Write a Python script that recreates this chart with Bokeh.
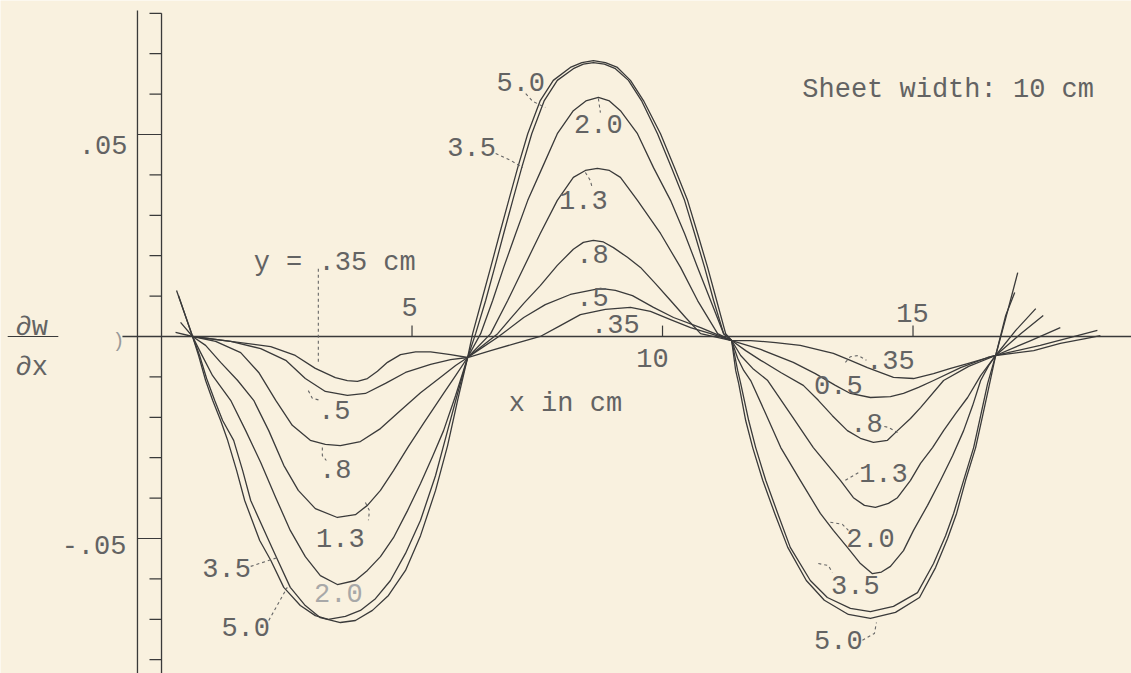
from bokeh.plotting import figure
from bokeh.models import Range1d
from bokeh.core.properties import value
from bokeh.embed import file_html
from bokeh.resources import INLINE

# ---------------- data (x in cm, dw/dx) ----------------
x_5_0 = [0.30, 0.62, 0.76, 0.90, 1.06, 1.22, 1.44, 1.62, 1.78, 2.14, 2.32, 2.57, 2.87, 3.17, 3.57, 3.87, 4.21, 4.53, 4.87, 5.17, 5.47, 5.71, 5.91, 6.11,
         6.21, 6.39, 6.57, 6.75, 6.93, 7.11, 7.31, 7.56, 7.82, 8.16, 8.39, 8.62, 8.86, 9.10, 9.36, 9.62, 9.96, 10.24, 10.50, 10.70, 10.90, 11.08, 11.26, 11.38,
         11.42, 11.46, 11.52, 11.66, 11.80, 12.00, 12.24, 12.50, 12.87, 13.23, 13.71, 14.15, 14.65, 15.13, 15.45, 15.69, 15.87, 16.05, 16.25, 16.39, 16.53, 16.65, 16.85, 17.09]
v_5_0 = [0.0114, 0.0, -0.0047, -0.0104, -0.0158, -0.0208, -0.0257, -0.0332, -0.0406, -0.0505, -0.0554, -0.0621, -0.0666, -0.0696, -0.0708, -0.0703, -0.0678, -0.0641, -0.0579, -0.0493, -0.0381, -0.0270, -0.0158, -0.0052,
         0.0007, 0.0089, 0.0171, 0.0255, 0.0337, 0.0418, 0.0502, 0.0584, 0.0634, 0.0666, 0.0678, 0.0683, 0.0678, 0.0666, 0.0634, 0.0584, 0.0502, 0.0418, 0.0337, 0.0255, 0.0171, 0.0089, 0.0007, -0.0010,
         -0.0047, -0.0084, -0.0116, -0.0208, -0.0275, -0.0356, -0.0438, -0.0522, -0.0604, -0.0653, -0.0688, -0.0698, -0.0683, -0.0646, -0.0572, -0.0500, -0.0438, -0.0356, -0.0275, -0.0196, -0.0116, -0.0047, 0.0045, 0.0158]

x_3_5 = [0.34, 0.62, 0.74, 0.88, 1.02, 1.18, 1.32, 1.50, 1.66, 1.96, 2.18, 2.44, 2.77, 3.07, 3.33, 3.67, 3.97, 4.27, 4.57, 4.87, 5.17, 5.47, 5.71, 5.91, 6.11,
         6.27, 6.47, 6.65, 6.83, 7.01, 7.19, 7.39, 7.64, 7.90, 8.22, 8.42, 8.62, 8.84, 9.06, 9.32, 9.58, 9.90, 10.18, 10.44, 10.64, 10.84, 11.02, 11.22, 11.38,
         11.44, 11.50, 11.56, 11.72, 11.86, 12.06, 12.30, 12.55, 12.95, 13.29, 13.75, 14.15, 14.61, 15.09, 15.41, 15.65, 15.81, 16.01, 16.21, 16.35, 16.49, 16.65, 16.85, 17.03]
v_3_5 = [0.0101, 0.0, -0.0047, -0.0109, -0.0158, -0.0208, -0.0257, -0.0332, -0.0406, -0.0505, -0.0554, -0.0621, -0.0666, -0.0691, -0.0700, -0.0693, -0.0678, -0.0649, -0.0604, -0.0537, -0.0455, -0.0344, -0.0233, -0.0141, -0.0052,
         0.0007, 0.0089, 0.0171, 0.0255, 0.0337, 0.0418, 0.0502, 0.0584, 0.0634, 0.0663, 0.0674, 0.0678, 0.0674, 0.0663, 0.0634, 0.0584, 0.0502, 0.0418, 0.0337, 0.0255, 0.0171, 0.0089, 0.0007, -0.0010,
         -0.0047, -0.0084, -0.0116, -0.0208, -0.0275, -0.0356, -0.0438, -0.0522, -0.0604, -0.0646, -0.0673, -0.0681, -0.0668, -0.0634, -0.0562, -0.0493, -0.0438, -0.0356, -0.0275, -0.0196, -0.0116, -0.0047, 0.0052, 0.0109]

x_2_0 = [0.38, 0.62, 0.78, 1.02, 1.38, 1.68, 1.98, 2.28, 2.57, 2.87, 3.17, 3.51, 3.87, 4.11, 4.37, 4.63, 4.91, 5.17, 5.41, 5.63, 5.87, 6.11,
         6.37, 6.61, 6.83, 7.07, 7.31, 7.60, 7.90, 8.22, 8.47, 8.72, 8.94, 9.16, 9.50, 9.82, 10.16, 10.44, 10.70, 10.96, 11.22, 11.38,
         11.50, 11.62, 11.76, 12.06, 12.36, 12.75, 13.15, 13.41, 13.69, 13.95, 14.19, 14.37, 14.55, 14.81, 15.01, 15.29, 15.55, 15.79, 16.01, 16.19, 16.35, 16.51, 16.65, 17.05, 17.45]
v_2_0 = [0.0035, 0.0, -0.0040, -0.0097, -0.0158, -0.0233, -0.0312, -0.0399, -0.0480, -0.0545, -0.0592, -0.0614, -0.0604, -0.0579, -0.0545, -0.0498, -0.0431, -0.0364, -0.0297, -0.0233, -0.0146, -0.0052,
         0.0007, 0.0089, 0.0171, 0.0255, 0.0337, 0.0418, 0.0502, 0.0559, 0.0583, 0.0592, 0.0583, 0.0559, 0.0502, 0.0418, 0.0337, 0.0255, 0.0171, 0.0089, 0.0007, -0.0010,
         -0.0054, -0.0084, -0.0109, -0.0191, -0.0275, -0.0356, -0.0438, -0.0480, -0.0522, -0.0562, -0.0587, -0.0583, -0.0569, -0.0530, -0.0480, -0.0418, -0.0356, -0.0295, -0.0233, -0.0171, -0.0109, -0.0072, -0.0047, 0.0015, 0.0069]

x_1_3 = [0.28, 0.62, 0.88, 1.18, 1.52, 1.84, 2.14, 2.44, 2.73, 3.07, 3.51, 3.87, 4.11, 4.37, 4.63, 4.93, 5.23, 5.63, 5.87, 6.11,
         6.57, 6.91, 7.23, 7.56, 7.90, 8.22, 8.46, 8.70, 8.94, 9.16, 9.50, 9.96, 10.36, 10.70, 11.10, 11.38,
         11.56, 11.80, 12.10, 12.55, 13.01, 13.55, 13.81, 14.03, 14.25, 14.51, 14.69, 14.95, 15.15, 15.39, 15.61, 15.85, 16.09, 16.35, 16.65, 17.15, 17.60]
v_1_3 = [0.0010, 0.0, -0.0022, -0.0064, -0.0109, -0.0158, -0.0233, -0.0319, -0.0381, -0.0426, -0.0448, -0.0441, -0.0418, -0.0381, -0.0332, -0.0272, -0.0215, -0.0141, -0.0097, -0.0052,
         0.0007, 0.0089, 0.0171, 0.0255, 0.0337, 0.0394, 0.0411, 0.0416, 0.0411, 0.0394, 0.0337, 0.0255, 0.0171, 0.0089, 0.0007, -0.0010,
         -0.0047, -0.0079, -0.0109, -0.0191, -0.0275, -0.0356, -0.0399, -0.0418, -0.0423, -0.0413, -0.0399, -0.0356, -0.0314, -0.0275, -0.0233, -0.0191, -0.0151, -0.0097, -0.0047, 0.0007, 0.0052]

x_0_8 = [0.62, 1.08, 1.58, 1.94, 2.28, 2.61, 2.97, 3.27, 3.57, 3.97, 4.37, 4.77, 5.17, 5.57, 5.87, 6.11,
         6.71, 6.97, 7.23, 7.56, 7.90, 8.22, 8.42, 8.62, 8.82, 9.02, 9.30, 9.56, 9.86, 10.16, 10.46, 10.76, 11.38,
         11.66, 11.96, 12.36, 12.81, 13.11, 13.39, 13.69, 13.95, 14.21, 14.49, 14.69, 14.95, 15.15, 15.61, 16.11, 16.65, 17.35, 17.94]
v_0_8 = [0.0, -0.0012, -0.0040, -0.0089, -0.0158, -0.0220, -0.0257, -0.0267, -0.0270, -0.0260, -0.0228, -0.0183, -0.0139, -0.0101, -0.0072, -0.0052,
         0.0007, 0.0045, 0.0082, 0.0126, 0.0176, 0.0216, 0.0233, 0.0238, 0.0234, 0.0220, 0.0196, 0.0171, 0.0131, 0.0089, 0.0047, 0.0007, -0.0010,
         -0.0035, -0.0059, -0.0089, -0.0121, -0.0158, -0.0196, -0.0233, -0.0252, -0.0262, -0.0257, -0.0233, -0.0203, -0.0176, -0.0109, -0.0074, -0.0047, -0.0010, 0.0022]

x_0_5 = [0.62, 1.38, 1.98, 2.48, 2.87, 3.27, 3.71, 4.07, 4.47, 4.87, 5.37, 5.77, 6.11,
         6.37, 6.71, 7.23, 7.66, 8.16, 8.76, 9.06, 9.40, 9.82, 10.22, 10.76, 11.38,
         11.96, 12.61, 13.05, 13.45, 13.75, 14.15, 14.55, 14.81, 15.11, 15.41, 15.95, 16.49, 16.65, 17.54, 18.68]
v_0_5 = [0.0, -0.0012, -0.0030, -0.0059, -0.0104, -0.0136, -0.0146, -0.0141, -0.0116, -0.0089, -0.0069, -0.0057, -0.0052,
         -0.0030, -0.0002, 0.0047, 0.0079, 0.0104, 0.0119, 0.0114, 0.0101, 0.0072, 0.0047, 0.0022, -0.0010,
         -0.0032, -0.0064, -0.0092, -0.0121, -0.0141, -0.0151, -0.0149, -0.0141, -0.0126, -0.0109, -0.0077, -0.0052, -0.0047, -0.0022, 0.0015]

x_0_35 = [0.62, 1.38, 2.18, 2.67, 3.07, 3.47, 3.71, 3.91, 4.11, 4.31, 4.51, 4.77, 5.07, 5.37, 5.77, 6.11,
          6.57, 7.07, 7.56, 7.96, 8.36, 8.86, 9.36, 9.76, 10.16, 10.56, 10.96, 11.38,
          11.76, 12.26, 12.75, 13.41, 13.75, 14.09, 14.61, 15.01, 15.41, 15.75, 16.09, 16.65, 17.41, 17.94, 18.44, 18.74]
v_0_35 = [0.0, -0.0012, -0.0025, -0.0047, -0.0079, -0.0102, -0.0109, -0.0111, -0.0104, -0.0086, -0.0064, -0.0045, -0.0038, -0.0038, -0.0045, -0.0052,
          -0.0035, -0.0017, 0.0, 0.0027, 0.0054, 0.0067, 0.0072, 0.0062, 0.0042, 0.0022, 0.0007, -0.0010,
          -0.0010, -0.0015, -0.0022, -0.0042, -0.0059, -0.0077, -0.0101, -0.0104, -0.0092, -0.0079, -0.0067, -0.0047, -0.0035, -0.0017, -0.0005, 0.0002]

series = [(x_5_0, v_5_0), (x_3_5, v_3_5), (x_2_0, v_2_0), (x_1_3, v_1_3),
          (x_0_8, v_0_8), (x_0_5, v_0_5), (x_0_35, v_0_35)]

# axis ticks
y_minor_ticks = [0.08, 0.07, 0.06, 0.04, 0.03, 0.02, 0.01, -0.01, -0.02, -0.03, -0.04, -0.06, -0.07, -0.08]
y_major_ticks = [0.05, -0.05]
y_tick_labels = [".05", "-.05"]
x_ticks = [5, 10, 15]
x_tick_labels = ["5", "10", "15"]

# curve labels (text, x, y)
curve_label_text = ["5.0", "2.0", "3.5", "1.3", ".8", ".5", ".35",
                    ".5", ".8", "1.3", "2.0", "3.5", "5.0",
                    ".35", "0.5", ".8", "1.3", "2.0", "3.5", "5.0"]
curve_label_x = [7.17, 8.72, 6.19, 8.42, 8.60, 8.60, 9.06,
                 3.45, 3.47, 3.57, 3.53, 1.30, 1.68,
                 14.55, 13.51, 14.07, 14.41, 14.15, 13.85, 13.51]
curve_label_y = [0.0629, 0.0525, 0.0468, 0.0339, 0.0205, 0.0097, 0.0032,
                 -0.0183, -0.0327, -0.0498, -0.0636, -0.0574, -0.0720,
                 -0.0059, -0.0119, -0.0215, -0.0337, -0.0500, -0.0614, -0.0752]

# leader lines from labels to curves
leader_xs = [[7.27, 7.41, 7.66], [6.67, 6.97, 7.21], [8.72, 8.76], [8.46, 8.56, 8.60],
             [3.13, 3.13], [2.93, 3.01, 3.17], [3.21, 3.21, 3.29], [4.07, 4.15, 4.13],
             [1.78, 2.32], [2.14, 2.51],
             [13.65, 13.75, 13.91, 14.07], [14.31, 14.51, 14.69], [13.65, 13.91],
             [13.35, 13.59, 13.71], [13.11, 13.31, 13.39], [13.99, 14.23, 14.27]]
leader_ys = [[0.0601, 0.0582, 0.0567], [0.0453, 0.0436, 0.0418], [0.0589, 0.0554], [0.0406, 0.0386, 0.0366],
             [0.0168, -0.0069], [-0.0134, -0.0153, -0.0158], [-0.0275, -0.0295, -0.0307], [-0.0411, -0.0431, -0.0455],
             [-0.0569, -0.0547], [-0.0703, -0.0621],
             [-0.0064, -0.0050, -0.0047, -0.0059], [-0.0220, -0.0225, -0.0238], [-0.0356, -0.0337],
             [-0.0460, -0.0465, -0.0480], [-0.0562, -0.0567, -0.0584], [-0.0752, -0.0735, -0.0708]]

BG = "#f9f1df"
INK = "#3a3a3a"
TEXT = "#636363"
FONT = value("Liberation Mono")

p = figure(width=1131, height=673,
           x_range=Range1d(-3.214, 19.361), y_range=Range1d(-0.08342, 0.08317),
           output_backend="svg", toolbar_location=None,
           x_axis_type=None, y_axis_type=None, min_border=0,
           background_fill_color=BG, border_fill_color=BG, outline_line_color=None)

# axes drawn through data space
p.segment(x0=[-0.78], y0=[0.0], x1=[19.6], y1=[0.0], line_color=INK, line_width=1.3)
p.segment(x0=[0.0, -0.48], y0=[0.08, 0.0807], x1=[0.0, -0.48], y1=[-0.09, -0.09],
          line_color=INK, line_width=1.3)
p.segment(x0=[-0.24] * len(y_minor_ticks), y0=y_minor_ticks, x1=[0.0] * len(y_minor_ticks), y1=y_minor_ticks,
          line_color=INK, line_width=1.2)
p.segment(x0=[-0.48] * len(y_major_ticks), y0=y_major_ticks, x1=[0.0] * len(y_major_ticks), y1=y_major_ticks,
          line_color=INK, line_width=1.2)
p.segment(x0=x_ticks, y0=[0.0] * 3, x1=x_ticks, y1=[0.0027] * 3, line_color=INK, line_width=1.2)

# curves
for xs, vs in series:
    p.line(xs, vs, line_color=INK, line_width=1.3, line_join="round")

# leaders
p.multi_line(leader_xs, leader_ys, line_color="#666666", line_width=1.1, line_dash="3 3")

fs = "27px"
# y tick labels
p.text(x=[-0.68, -0.70], y=[0.0473, -0.0517], text=y_tick_labels, text_font=FONT, text_font_size=fs,
       text_align="right", text_baseline="middle", text_color=TEXT)
# x tick labels
p.text(x=[4.95, 9.80, 14.99], y=[0.0072, -0.0052, 0.0057], text=x_tick_labels, text_font=FONT,
       text_font_size=fs, text_align="center", text_baseline="middle", text_color=TEXT)
# partial zero label
p.text(x=[-0.86], y=[-0.0012], text=[")"], text_font=FONT, text_font_size="20px",
       text_align="center", text_baseline="middle", text_color="#9a9a9a")
# axis titles and notes
p.text(x=[6.93, 1.84, 12.79], y=[-0.0166, 0.0181, 0.0609],
       text=["x in cm", "y = .35 cm", "Sheet width: 10 cm"], text_font=FONT, text_font_size=fs,
       text_align="left", text_baseline="alphabetic", text_color=TEXT)
p.text(x=[-2.59, -2.59], y=[0.0020, -0.0077], text=["\u2202w", "\u2202x"], text_font=FONT,
       text_font_size=fs, text_align="center", text_baseline="alphabetic", text_color=TEXT)
p.segment(x0=[-3.07], y0=[0.0], x1=[-2.06], y1=[0.0], line_color=INK, line_width=1.2)

# curve labels
label_colors = [TEXT] * len(curve_label_text)
label_colors[10] = "#a8a8a8"
p.text(x=curve_label_x, y=curve_label_y, text=curve_label_text, text_font=FONT, text_font_size=fs,
       text_align="center", text_baseline="middle", text_color=label_colors)

open("out.html", "w").write(file_html(p, INLINE))
